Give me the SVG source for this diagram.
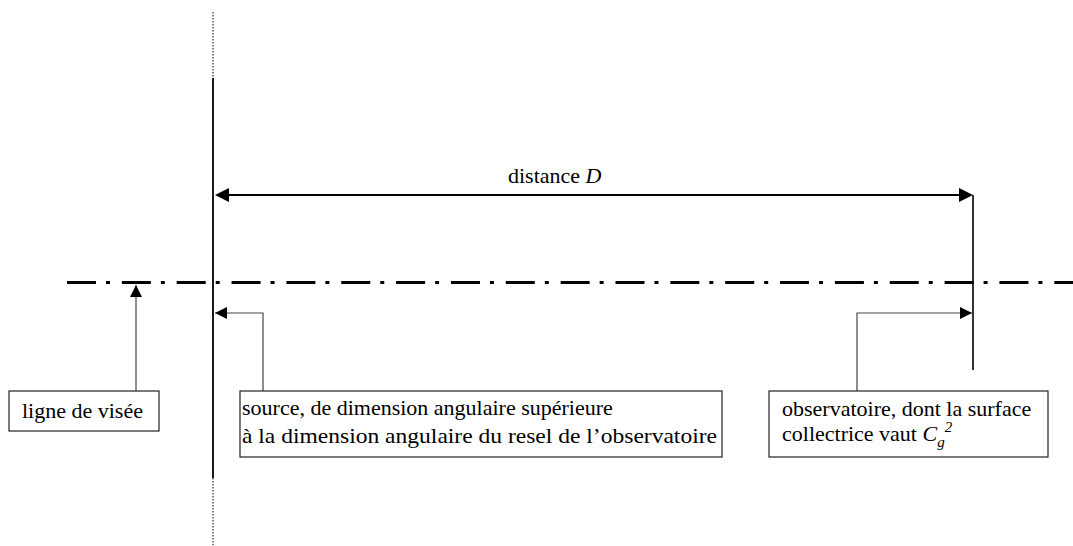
<svg xmlns="http://www.w3.org/2000/svg" width="1073" height="546" viewBox="0 0 1073 546">
<defs>
<style>
.t{font-family:"Liberation Serif","Times New Roman",serif;font-size:22px;fill:#000}
.box{fill:#fff;stroke:#222;stroke-width:1.2}
.con{fill:none;stroke:#444;stroke-width:1.2}
</style>
<marker id="as" viewBox="0 0 12 12" refX="12" refY="6" markerWidth="12" markerHeight="12" markerUnits="userSpaceOnUse" orient="auto"><path d="M0,0 L12,6 L0,12 Z" fill="#000"/></marker>
</defs>
<g id="structure">
<line x1="213" y1="12" x2="213" y2="78" stroke="#000" stroke-width="1" stroke-dasharray="1.5,1.5"/>
<line x1="213" y1="78" x2="213" y2="478" stroke="#000" stroke-width="1.8"/>
<line x1="213" y1="478" x2="213" y2="545" stroke="#000" stroke-width="1" stroke-dasharray="1.5,1.5"/>
<line x1="973" y1="195" x2="973" y2="370" stroke="#000" stroke-width="1.6"/>
<line x1="67" y1="282.5" x2="1073" y2="282.5" stroke="#000" stroke-width="3" stroke-dasharray="29,10,4,11.85"/>
</g>
<g id="connectors">
<line x1="229" y1="195" x2="959" y2="195" stroke="#000" stroke-width="2"/>
<path d="M229,188 L215,195 L229,202 Z" fill="#000"/>
<path d="M959,188 L973,195 L959,202 Z" fill="#000"/>
<line x1="136" y1="391" x2="136" y2="285" class="con" marker-end="url(#as)"/>
<path d="M263,391 V313 H215" class="con" marker-end="url(#as)"/>
<path d="M857,391 V313 H972" class="con" marker-end="url(#as)"/>
</g>
<g id="label-distance">
<text class="t" x="508" y="183">distance <tspan font-style="italic">D</tspan></text>
</g>
<g id="node-ligne">
<rect class="box" x="9" y="391" width="150" height="40"/>
<text class="t" x="22" y="418">ligne de visée</text>
</g>
<g id="node-source">
<rect class="box" x="240" y="391" width="482" height="66"/>
<text class="t" x="242" y="415">source, de dimension angulaire supérieure</text>
<text class="t" x="242" y="443" textLength="475" lengthAdjust="spacingAndGlyphs">à la dimension angulaire du resel de l’observatoire</text>
</g>
<g id="node-observatoire">
<rect class="box" x="769" y="391" width="279" height="66"/>
<text class="t" x="782" y="416">observatoire, dont la surface</text>
<text class="t" x="782" y="441">collectrice vaut <tspan font-style="italic">C</tspan><tspan font-style="italic" font-size="15" dy="6">g</tspan><tspan font-style="italic" font-size="15" dy="-15">2</tspan></text>
</g>
</svg>
